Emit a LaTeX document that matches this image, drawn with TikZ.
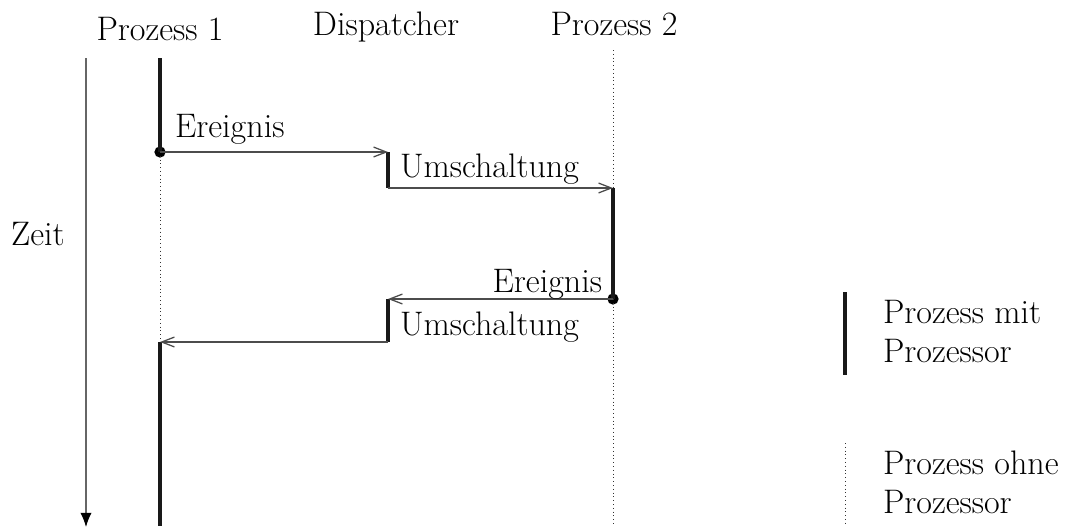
\documentclass[tikz,border=0pt]{standalone}
\usetikzlibrary{arrows.meta}
\begin{document}
\begin{tikzpicture}[x=0.025cm,y=-0.025cm,
  every node/.style={inner sep=0pt,outer sep=0pt,font=\fontsize{24.2}{27.3}\selectfont},
  active/.style={line width=2.5pt,black!90},
  idle/.style={line width=0.7pt,dotted,black!80},
  msg/.style={line width=0.9pt,black!70,-{Straight Barb[length=9pt,width=7pt]}},
  timeline/.style={line width=0.9pt,black!60,-{Latex[length=10pt,width=8pt,black]}},
  evdot/.style={circle,fill=black,minimum size=8pt}]
\useasboundingbox (0,0) rectangle (1069,526);

% column headings
\node[anchor=base] (h1) at (160,40) {Prozess 1};
\node[anchor=base] (hd) at (386,35) {Dispatcher};
\node[anchor=base] (h2) at (614,35) {Prozess 2};

% time axis
\coordinate (t0) at (86,58);
\coordinate (t1) at (86,527);
\draw[timeline] (t0) -- (t1);
\node[anchor=base] (zeit) at (38,245) {Zeit};

% key points on the life lines
\coordinate (p1top) at (160,58);
\node[evdot] (p1ev) at (160,152) {};
\coordinate (p1back) at (160,342);
\coordinate (p1bot) at (160,526);
\coordinate (d1a) at (388,152);
\coordinate (d1b) at (388,188);
\coordinate (d2a) at (388,299);
\coordinate (d2b) at (388,342);
\coordinate (p2top) at (613,50);
\coordinate (p2go) at (613,188);
\node[evdot] (p2ev) at (613,299) {};
\coordinate (p2bot) at (613,526);

% Prozess 1
\draw[active] (p1top) -- (p1ev.center);
\draw[idle] (p1ev.center) -- (p1back);
\draw[active] (p1back) -- (p1bot);

% Prozess 2
\draw[idle] (p2top) -- (p2go);
\draw[active] (p2go) -- (p2ev.center);
\draw[idle] (p2ev.center) -- (p2bot);

% Dispatcher
\draw[active] (d1a) -- (d1b);
\draw[active] (d2a) -- (d2b);

% messages
\draw[msg] (p1ev.center) -- (d1a);
\draw[msg] (d1b) -- (p2go);
\draw[msg] (p2ev.center) -- (d2a);
\draw[msg] (d2b) -- (p1back);

\node[anchor=base west] (ev1) at (175,137) {Ereignis};
\node[anchor=base west] (sw1) at (400,177) {Umschaltung};
\node[anchor=base east] (ev2) at (602,292) {Ereignis};
\node[anchor=base west] (sw2) at (400,335) {Umschaltung};

% legend
\coordinate (la) at (845,292);
\coordinate (lb) at (845,375);
\coordinate (lc) at (845,443);
\coordinate (ld) at (845,526);
\draw[active] (la) -- (lb);
\draw[idle] (lc) -- (ld);
\node[anchor=base west,align=left] (lg1) at (883,362) {Prozess mit\\Prozessor};
\node[anchor=base west,align=left] (lg2) at (883,513) {Prozess ohne\\Prozessor};
\end{tikzpicture}
\end{document}
